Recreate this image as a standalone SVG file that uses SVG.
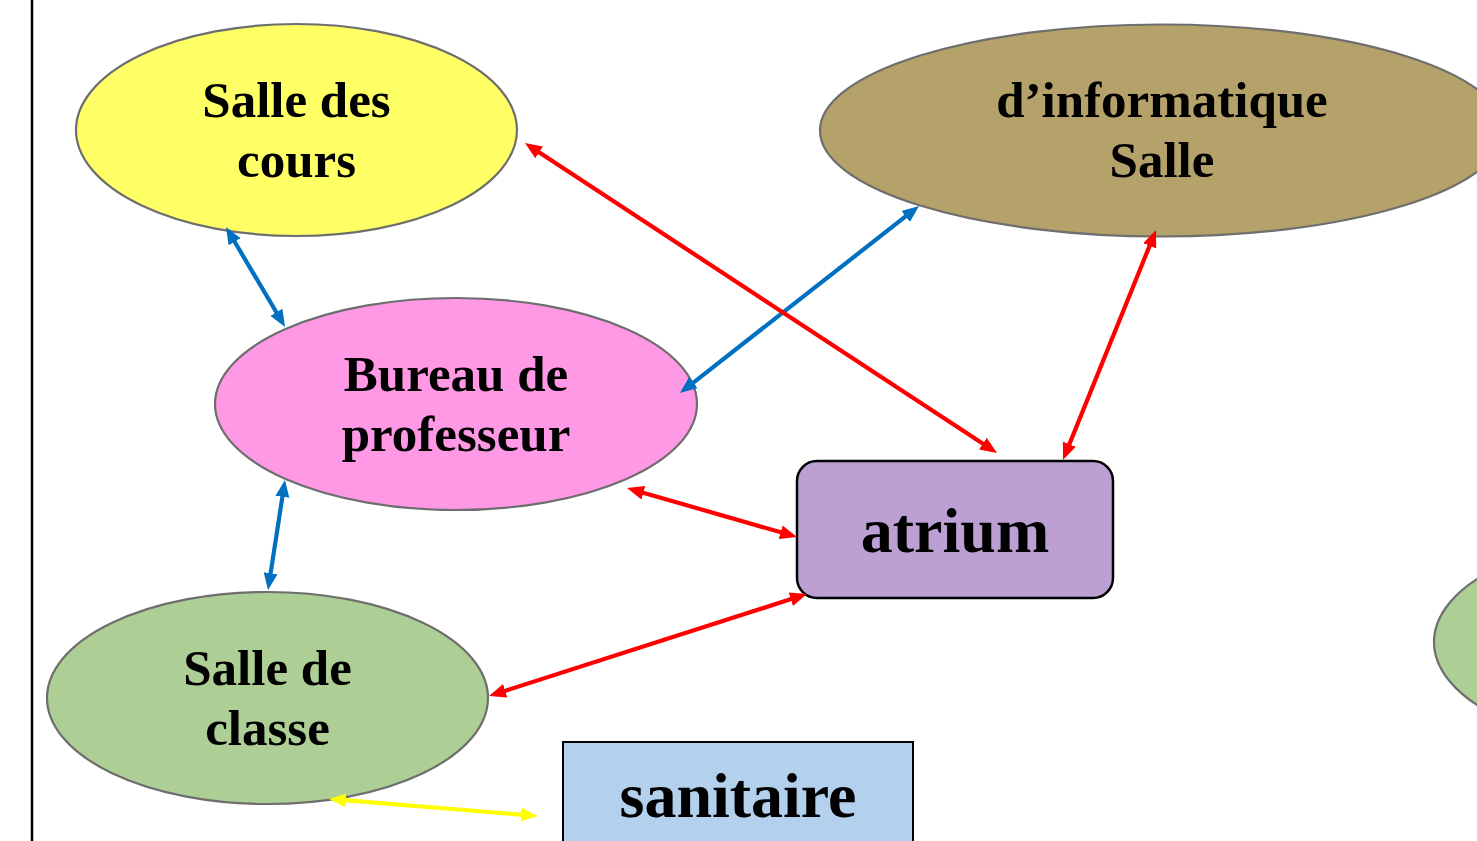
<svg xmlns="http://www.w3.org/2000/svg" width="1477" height="841" viewBox="0 0 1477 841">
<style>
  .ell { stroke: #6E6E6E; stroke-width: 2.2; }
  .lbl { font-family: "Liberation Serif", "Times New Roman", serif; font-weight: bold; font-size: 51px; fill: #000; text-anchor: middle; }
  .big { font-size: 64px; }
  .con { stroke-width: 4.2; fill: none; }
  .blue { stroke: #0070C0; marker-start: url(#ab); marker-end: url(#ab); }
  .red { stroke: #FF0000; marker-start: url(#ar); marker-end: url(#ar); }
  .yel { stroke: #FFFF00; marker-start: url(#ay); marker-end: url(#ay); }
</style>
<defs>
  <marker id="ab" markerUnits="userSpaceOnUse" viewBox="0 -8 18 16" refX="2" refY="0" markerWidth="18" markerHeight="16" orient="auto-start-reverse"><path d="M0,-7 L17,0 L0,7 z" fill="#0070C0"/></marker>
  <marker id="ar" markerUnits="userSpaceOnUse" viewBox="0 -8 18 16" refX="2" refY="0" markerWidth="18" markerHeight="16" orient="auto-start-reverse"><path d="M0,-7 L17,0 L0,7 z" fill="#FF0000"/></marker>
  <marker id="ay" markerUnits="userSpaceOnUse" viewBox="0 -8 18 16" refX="2" refY="0" markerWidth="18" markerHeight="16" orient="auto-start-reverse"><path d="M0,-7 L17,0 L0,7 z" fill="#FFFF00"/></marker>
</defs>
<rect x="0" y="0" width="1477" height="841" fill="#FFFFFF"/>
<line x1="32" y1="0" x2="32" y2="841" stroke="#000" stroke-width="2.5"/>

<g id="salle-cours">
  <ellipse class="ell" cx="296.5" cy="130" rx="220.5" ry="106" fill="#FFFF66"/>
  <text class="lbl" x="296.5" y="117">Salle des</text>
  <text class="lbl" x="296.5" y="177">cours</text>
</g>
<g id="salle-informatique">
  <ellipse class="ell" cx="1162" cy="130.5" rx="342" ry="106" fill="#B5A16A"/>
  <text class="lbl" x="1162" y="117">d’informatique</text>
  <text class="lbl" x="1162" y="177">Salle</text>
</g>
<g id="bureau-professeur">
  <ellipse class="ell" cx="456" cy="404" rx="241" ry="106" fill="#FF99E6"/>
  <text class="lbl" x="456" y="391">Bureau de</text>
  <text class="lbl" x="456" y="451">professeur</text>
</g>
<g id="salle-classe">
  <ellipse class="ell" cx="267.5" cy="698" rx="220.5" ry="106" fill="#ADCF95"/>
  <text class="lbl" x="267.5" y="685">Salle de</text>
  <text class="lbl" x="267.5" y="745">classe</text>
</g>
<g id="right-node">
  <ellipse class="ell" cx="1654" cy="642" rx="220" ry="106" fill="#ADCF95"/>
</g>
<g id="atrium">
  <rect x="797" y="461" width="316" height="137" rx="20" ry="20" fill="#BCA0D3" stroke="#000" stroke-width="2.5"/>
  <text class="lbl big" x="955" y="552">atrium</text>
</g>
<g id="sanitaire">
  <rect x="563" y="742" width="350" height="110" fill="#B3D0EC" stroke="#000" stroke-width="2"/>
  <text class="lbl big" x="738" y="817">sanitaire</text>
</g>

<g id="connectors">
  <line class="con blue" x1="233.6" y1="240.0" x2="277.4" y2="314.0"/>
  <line class="con blue" x1="691.8" y1="383.8" x2="907.2" y2="215.2"/>
  <line class="con blue" x1="282.7" y1="494.8" x2="270.3" y2="575.2"/>
  <line class="con red" x1="537.5" y1="151.2" x2="984.5" y2="444.8"/>
  <line class="con red" x1="1150.4" y1="243.9" x2="1068.6" y2="446.1"/>
  <line class="con red" x1="641.4" y1="492.2" x2="782.6" y2="532.8"/>
  <line class="con red" x1="503.3" y1="691.4" x2="792.7" y2="598.6"/>
  <line class="con yel" x1="344.0" y1="800.2" x2="523.0" y2="814.8"/>
</g>
</svg>
